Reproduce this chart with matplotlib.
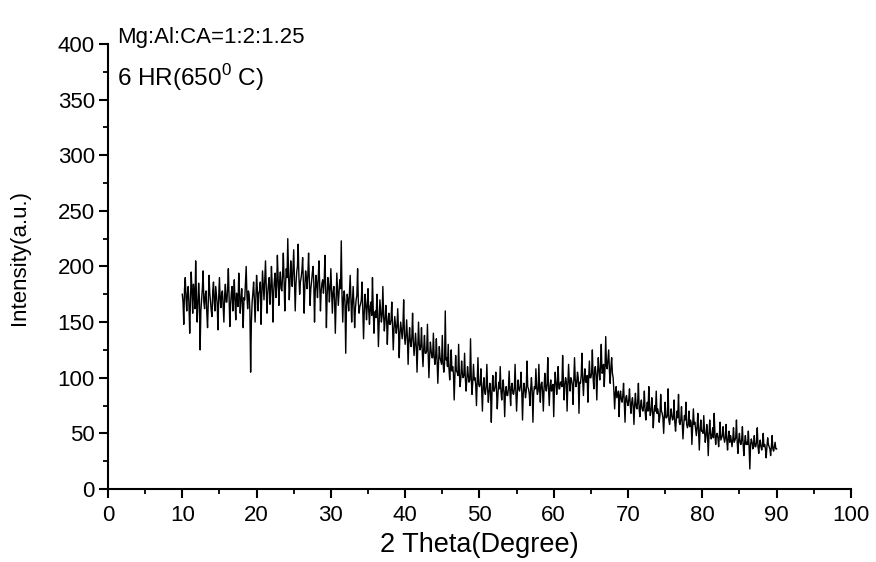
import numpy as np
import matplotlib.pyplot as plt

plt.rcParams['font.family'] = ['Liberation Sans', 'DejaVu Sans']
plt.rcParams['mathtext.fontset'] = 'custom'
plt.rcParams['mathtext.rm'] = 'Liberation Sans'

# XRD scan, 2theta = 10..90 deg, step 0.1 (one row per degree)
two_theta = np.round(np.arange(10.0, 90.01, 0.1), 1)
intensity = [
    175, 168, 148, 180, 190, 172, 160, 176, 182, 165,   # 10
    140, 170, 195, 178, 158, 184, 176, 162, 205, 174,
    150, 166, 185, 172, 125, 160, 170, 180, 196, 168,
    162, 175, 178, 158, 145, 170, 192, 176, 168, 160,
    155, 178, 186, 168, 160, 182, 174, 166, 143, 172,
    190, 170, 163, 176, 178, 164, 150, 174, 184, 168,   # 15
    168, 180, 198, 170, 146, 166, 176, 182, 160, 172,
    188, 168, 152, 176, 172, 164, 194, 178, 158, 170,
    180, 166, 145, 172, 170, 184, 200, 174, 162, 178,
    175, 160, 105, 150, 168, 176, 186, 170, 150, 172,
    192, 180, 160, 176, 178, 186, 148, 174, 196, 182,   # 20
    170, 188, 205, 180, 158, 176, 184, 190, 166, 178,
    200, 184, 150, 176, 188, 194, 172, 182, 210, 190,
    165, 186, 195, 180, 178, 192, 212, 188, 160, 184,
    198, 190, 225, 194, 170, 186, 205, 192, 182, 198,
    215, 188, 160, 184, 195, 200, 220, 190, 175, 186,   # 25
    190, 196, 208, 186, 158, 182, 196, 190, 180, 192,
    212, 188, 165, 180, 186, 194, 200, 186, 150, 178,
    192, 184, 172, 190, 205, 182, 160, 178, 185, 188,
    176, 186, 210, 180, 145, 174, 190, 184, 168, 180,
    198, 178, 158, 176, 182, 170, 140, 168, 194, 180,   # 30
    165, 176, 188, 180, 223, 174, 150, 172, 178, 168,
    122, 164, 175, 170, 160, 176, 192, 172, 150, 168,
    182, 166, 145, 162, 170, 174, 198, 168, 158, 164,
    166, 170, 186, 162, 135, 160, 175, 166, 152, 164,
    180, 160, 148, 164, 168, 156, 190, 162, 140, 158,   # 35
    160, 154, 175, 158, 128, 150, 170, 160, 150, 156,
    182, 156, 142, 152, 165, 154, 130, 150, 158, 148,
    148, 152, 168, 146, 125, 144, 155, 148, 140, 146,
    162, 144, 118, 140, 150, 142, 135, 146, 170, 138,
    130, 138, 152, 136, 112, 134, 145, 132, 128, 136,   # 40
    158, 132, 120, 130, 140, 128, 105, 126, 150, 130,
    125, 128, 145, 124, 110, 126, 138, 122, 122, 124,
    148, 122, 100, 120, 132, 124, 118, 118, 140, 120,
    112, 118, 135, 116, 95, 114, 128, 118, 115, 112,
    138, 114, 105, 112, 160, 116, 118, 110, 130, 108,   # 45
    98, 110, 125, 106, 110, 104, 80, 102, 120, 106,
    105, 102, 130, 104, 92, 100, 115, 104, 100, 102,
    122, 100, 88, 98, 110, 102, 96, 98, 135, 100,
    85, 96, 112, 98, 100, 94, 75, 96, 118, 94,
    92, 94, 108, 90, 70, 92, 100, 88, 85, 92,           # 50
    112, 90, 78, 88, 95, 86, 60, 90, 102, 88,
    88, 92, 105, 88, 72, 86, 96, 90, 110, 88,
    80, 90, 98, 86, 65, 88, 92, 84, 84, 90,
    106, 88, 75, 92, 95, 86, 85, 90, 112, 88,
    70, 86, 98, 90, 88, 92, 105, 88, 62, 86,            # 55
    95, 90, 82, 88, 115, 92, 90, 86, 75, 90,
    100, 88, 60, 86, 92, 90, 108, 92, 85, 88,
    112, 90, 78, 94, 96, 88, 70, 90, 104, 92,
    88, 94, 118, 90, 75, 92, 98, 88, 92, 94,
    65, 92, 105, 96, 85, 94, 110, 90, 90, 96,           # 60
    96, 92, 120, 98, 80, 94, 100, 96, 70, 94,
    112, 96, 88, 100, 98, 94, 76, 96, 118, 98,
    92, 96, 105, 100, 68, 96, 95, 102, 122, 98,
    84, 100, 108, 96, 96, 102, 78, 98, 115, 100,
    100, 104, 125, 100, 90, 106, 110, 102, 80, 104,     # 65
    118, 106, 98, 110, 130, 104, 105, 112, 92, 108,
    137, 110, 108, 116, 125, 106, 95, 110, 118, 104,
    100, 88, 72, 86, 92, 82, 85, 88, 65, 84,
    88, 80, 78, 84, 95, 78, 60, 82, 84, 78,
    75, 80, 90, 76, 68, 78, 82, 74, 58, 76,             # 70
    86, 74, 72, 78, 95, 72, 65, 76, 80, 72,
    70, 74, 88, 70, 62, 72, 78, 70, 92, 74,
    66, 70, 82, 72, 55, 68, 75, 70, 88, 68,
    72, 68, 60, 66, 85, 70, 68, 64, 50, 66,
    78, 64, 64, 66, 90, 62, 58, 64, 72, 66,             # 75
    62, 64, 80, 60, 52, 62, 70, 64, 85, 60,
    58, 62, 74, 60, 45, 58, 66, 62, 78, 58,
    55, 58, 70, 56, 62, 60, 40, 56, 72, 58,
    60, 54, 48, 56, 68, 52, 35, 54, 62, 52,
    52, 50, 66, 52, 42, 48, 58, 50, 30, 48,             # 80
    62, 50, 45, 48, 55, 46, 68, 50, 40, 48,
    50, 46, 38, 48, 60, 44, 46, 48, 56, 46,
    42, 46, 58, 44, 35, 46, 52, 42, 48, 44,
    38, 44, 55, 42, 44, 46, 62, 42, 32, 44,
    50, 42, 40, 44, 56, 40, 30, 42, 48, 40,             # 85
    42, 40, 52, 38, 18, 40, 45, 42, 36, 40,
    48, 38, 38, 42, 55, 38, 32, 40, 44, 38,
    35, 40, 50, 38, 40, 36, 28, 38, 46, 40,
    38, 36, 30, 38, 48, 36, 34, 38, 42, 36,
    36,                                                 # 90
]

fig = plt.figure(figsize=(8.76, 5.62), dpi=100)
ax = fig.add_axes([0.1233, 0.1299, 0.848, 0.792])

ax.plot(two_theta, intensity, color='black', lw=1.0)

ax.set_xlim(0, 100)
ax.set_ylim(0, 400)
ax.set_xticks(np.arange(0, 101, 10))
ax.set_xticks(np.arange(5, 100, 10), minor=True)
ax.set_yticks(np.arange(0, 401, 50))
ax.set_yticks(np.arange(25, 400, 50), minor=True)

for side in ['top', 'right']:
    ax.spines[side].set_visible(False)
for side in ['left', 'bottom']:
    ax.spines[side].set_linewidth(1.5)

ax.tick_params(which='major', direction='out', length=6.5, width=1.5,
               labelsize=16, pad=3)
ax.tick_params(axis='x', which='major', pad=5)
ax.tick_params(which='minor', direction='out', length=3.5, width=1.3)

ax.set_xlabel('2 Theta(Degree)', fontsize=19.5, labelpad=4)
ax.set_ylabel('Intensity(a.u.)', fontsize=16)
ax.yaxis.set_label_coords(-0.105, 0.52)

ax.text(0.012, 1.038, 'Mg:Al:CA=1:2:1.25', transform=ax.transAxes,
        fontsize=16, va='top', ha='left', clip_on=False)
ax.text(0.012, 0.958, r'6 HR(650$^0$ C)', transform=ax.transAxes,
        fontsize=17.5, va='top', ha='left', clip_on=False)

fig.savefig('out.png', dpi=100)
